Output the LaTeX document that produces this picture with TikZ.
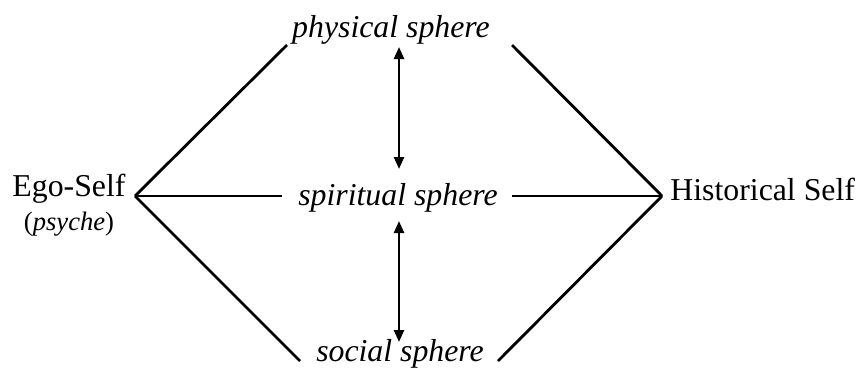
\documentclass[tikz,border=0pt]{standalone}
\usepackage{fontspec}
\setmainfont{Liberation Serif}
\usetikzlibrary{positioning,arrows.meta}

\begin{document}
\begin{tikzpicture}[x=0.5pt,y=-0.5pt,lbl/.style={font=\fontsize{15.9}{18}\selectfont,inner sep=1pt},sph/.style={lbl,font=\fontsize{15.9}{18}\selectfont\itshape},ln/.style={line width=1.4pt},arr/.style={{Triangle[length=6pt,width=5pt]}-{Triangle[length=6pt,width=5pt]},line width=1.2pt}]
\useasboundingbox (0,0) rectangle (856,370);
\node[sph] (phys) at (391,30) {physical sphere};
\node[sph] (spirit) at (398,198) {spiritual sphere};
\node[sph] (social) at (400,354) {social sphere};
\node[lbl] (ego) at (69,189) {Ego-Self};
\node[lbl,font=\fontsize{13.3}{15}\selectfont,below=2pt of ego] (psyche) {(\textit{psyche})};
\node[lbl,anchor=west] (hist) at (668,189) {Historical Self};
\coordinate (L) at (135,196);\coordinate (R) at (662,196);
\coordinate (pl) at (287,45);\coordinate (pr) at (512,45);
\coordinate (ml) at (282,196);\coordinate (mr) at (512,196);
\coordinate (sl) at (300,361);\coordinate (sr) at (498,361);
\coordinate (ua) at (399,47);\coordinate (ub) at (399,169);
\coordinate (la) at (399,221);\coordinate (lb) at (399,342);
\draw[ln] (L)--(pl);\draw[ln] (pr)--(R);
\draw[ln] (L)--(ml);\draw[ln] (mr)--(R);
\draw[ln] (L)--(sl);\draw[ln] (sr)--(R);
\draw[arr] (ua)--(ub);
\draw[arr] (la)--(lb);
\end{tikzpicture}
\end{document}
